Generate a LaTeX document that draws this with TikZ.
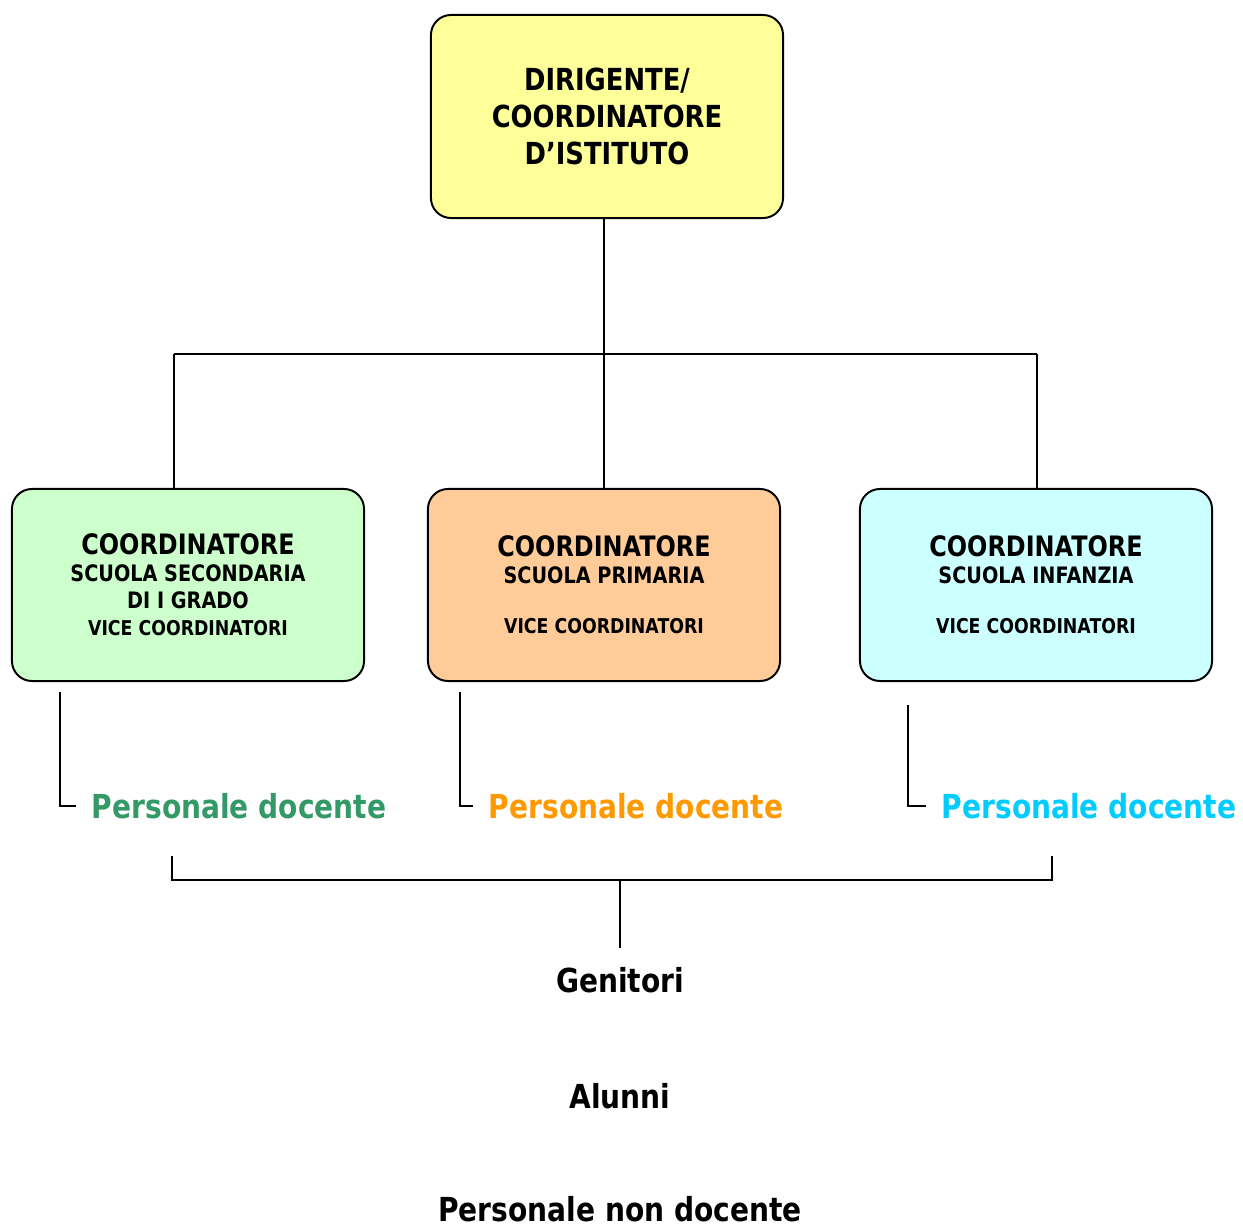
\documentclass[tikz,border=0pt]{standalone}
\usepackage{fontspec}
\setmainfont{DejaVu Sans}[FakeStretch=0.85]
\usetikzlibrary{calc}
\definecolor{boxyellow}{HTML}{FFFF99}
\definecolor{boxgreen}{HTML}{CCFFCC}
\definecolor{boxorange}{HTML}{FFCC99}
\definecolor{boxcyan}{HTML}{CCFFFF}
\definecolor{docgreen}{HTML}{339966}
\definecolor{docorange}{HTML}{FF9900}
\definecolor{doccyan}{HTML}{00CCFF}
\newcommand{\toptitle}{\fontsize{21.6}{26.3}\selectfont}
\newcommand{\rowtitle}{\fontsize{20}{19.2}\selectfont}
\newcommand{\rowsub}{\fontsize{16.1}{19.2}\selectfont}
\newcommand{\rowvice}{\fontsize{14.5}{19.2}\selectfont}

\begin{document}
\begin{tikzpicture}[x=0.025cm, y=-0.025cm, line width=1.2pt,
	box/.style={draw, line width=1.4pt, rounded corners=0.5cm, minimum width=8.8cm, align=center, inner sep=0pt},
	rowbox/.style={box, minimum height=4.8cm, font=\rowtitle\bfseries},
	txt/.style={font=\fontsize{23.5}{28}\selectfont\bfseries, inner sep=0pt}]
\useasboundingbox (0,0) rectangle (1243,1228);

% top
\node[box, fill=boxyellow, minimum height=5.075cm, font=\toptitle\bfseries] (dir) at (607,116.5)
	{DIRIGENTE/\\COORDINATORE\\D'ISTITUTO};

% coordinatori
\node[rowbox, fill=boxgreen] (sec) at (188,585)
	{\rowtitle COORDINATORE\\\rowsub SCUOLA SECONDARIA\\\rowsub DI I GRADO\\\rowvice VICE COORDINATORI};
\node[rowbox, fill=boxorange] (pri) at (604,585)
	{\rowtitle COORDINATORE\\\rowsub SCUOLA PRIMARIA\\[16.4pt]\rowvice VICE COORDINATORI};
\node[rowbox, fill=boxcyan] (inf) at (1036,585)
	{\rowtitle COORDINATORE\\\rowsub SCUOLA INFANZIA\\[16.4pt]\rowvice VICE COORDINATORI};

\coordinate (hl) at (174,354);
\coordinate (hr) at (1037,354);
\draw (pri.north |- dir.south) -- (pri.north);
\draw (hl) -- (hr);
\draw (hl) -- (hl |- sec.north);
\draw (hr) -- (hr |- inf.north);

% personale docente
\node[txt, text=docgreen, anchor=west] (pdsec) at (91,806) {Personale docente};
\node[txt, text=docorange, anchor=west] (pdpri) at (488,806) {Personale docente};
\node[txt, text=doccyan, anchor=west] (pdinf) at (941,806) {Personale docente};
\foreach \n/\x/\y in {sec/60/692, pri/460/692, inf/908/705}{
	\draw (\x,\y) |- ($(pd\n.west)+(-15,0)$);
}

% altri
\coordinate (bl) at (172,856);
\coordinate (br) at (1052,856);
\draw (bl) -- ++(0,24) -| (br);
\node[txt] (gen) at (620,980) {Genitori};
\node[txt] (alu) at (620,1096) {Alunni};
\node[txt] (pnd) at (620,1209) {Personale non docente};
\draw (gen.north |- bl) ++(0,24) -- ($(gen.north)+(0,-18)$);
\end{tikzpicture}
\end{document}
